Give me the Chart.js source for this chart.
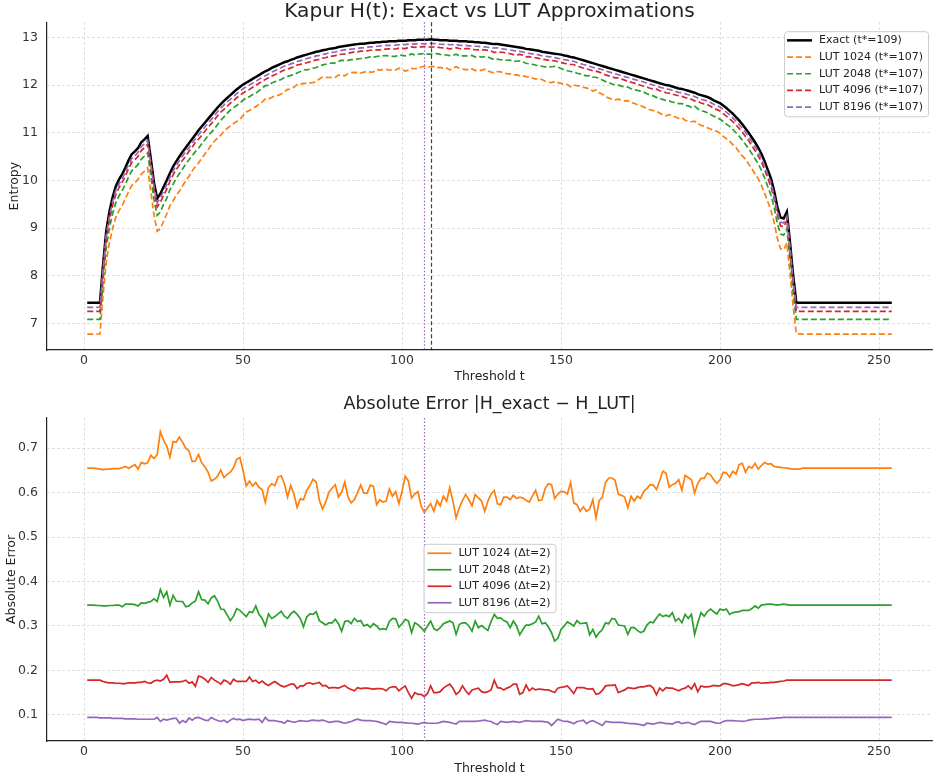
<!DOCTYPE html>
<html>
<head>
<meta charset="utf-8">
<title>Kapur H(t): Exact vs LUT Approximations</title>
<script src="https://cdn.jsdelivr.net/npm/chart.js@4.4.0/dist/chart.umd.min.js"></script>
<style>
  html, body { margin: 0; padding: 0; background: #fff; }
  #wrap { position: relative; width: 934px; height: 778px; }
  canvas { position: absolute; left: 0; }
  #top { top: 0; }
  #bottom { top: 390px; }
</style>
</head>
<body>
<div id="wrap">
  <canvas id="top" width="934" height="390"></canvas>
  <canvas id="bottom" width="934" height="388"></canvas>
</div>
<script>
// thresholds run 1..254, one value per threshold
const T_FIRST = 1;

// exact Kapur entropy H(t)
const exactH = [
  7.43,7.43,7.43,7.43,7.43,8.25,8.95,9.35,9.65,9.88,
  10.02,10.13,10.27,10.42,10.55,10.61,10.68,10.80,10.86,10.93,
  10.45,9.95,9.62,9.72,9.86,10.00,10.15,10.29,10.40,10.50,
  10.60,10.69,10.78,10.87,10.96,11.05,11.13,11.21,11.29,11.37,
  11.45,11.53,11.60,11.67,11.73,11.79,11.85,11.91,11.96,12.01,
  12.05,12.09,12.13,12.17,12.21,12.25,12.29,12.32,12.36,12.39,
  12.42,12.45,12.48,12.50,12.53,12.55,12.58,12.60,12.62,12.64,
  12.66,12.68,12.70,12.71,12.73,12.74,12.76,12.77,12.78,12.80,
  12.81,12.82,12.83,12.84,12.85,12.86,12.87,12.87,12.88,12.89,
  12.89,12.90,12.90,12.91,12.91,12.92,12.92,12.92,12.93,12.93,
  12.93,12.94,12.94,12.94,12.95,12.95,12.95,12.95,12.96,12.95,
  12.95,12.94,12.94,12.94,12.93,12.93,12.93,12.92,12.92,12.92,
  12.91,12.91,12.90,12.90,12.89,12.89,12.88,12.87,12.86,12.86,
  12.85,12.84,12.83,12.82,12.81,12.80,12.79,12.78,12.76,12.75,
  12.74,12.73,12.72,12.70,12.69,12.68,12.67,12.66,12.65,12.64,
  12.62,12.61,12.59,12.58,12.56,12.54,12.52,12.50,12.48,12.46,
  12.44,12.42,12.40,12.38,12.36,12.34,12.32,12.30,12.28,12.26,
  12.24,12.22,12.20,12.18,12.16,12.14,12.12,12.10,12.08,12.06,
  12.04,12.02,12.00,11.99,11.97,11.95,11.93,11.92,11.90,11.88,
  11.86,11.84,11.81,11.79,11.77,11.75,11.72,11.68,11.65,11.62,
  11.57,11.52,11.46,11.40,11.33,11.26,11.18,11.09,11.00,10.90,
  10.80,10.69,10.56,10.40,10.22,10.04,9.78,9.45,9.22,9.20,
  9.34,8.70,8.00,7.43,7.43,7.43,7.43,7.43,7.43,7.43,
  7.43,7.43,7.43,7.43,7.43,7.43,7.43,7.43,7.43,7.43,
  7.43,7.43,7.43,7.43,7.43,7.43,7.43,7.43,7.43,7.43,
  7.43,7.43,7.43,7.43
];

// absolute error |H_exact - H_LUT| per LUT size
const err1024 = [
  0.655,0.655,0.655,0.654,0.653,0.652,0.653,0.653,0.654,0.654,
  0.654,0.656,0.659,0.655,0.659,0.663,0.653,0.668,0.665,0.667,
  0.684,0.677,0.686,0.737,0.718,0.705,0.680,0.715,0.714,0.725,
  0.713,0.700,0.694,0.670,0.671,0.686,0.667,0.658,0.646,0.626,
  0.630,0.637,0.651,0.634,0.641,0.646,0.656,0.675,0.679,0.650,
  0.615,0.626,0.615,0.623,0.612,0.607,0.578,0.612,0.620,0.616,
  0.635,0.638,0.620,0.590,0.616,0.597,0.567,0.586,0.584,0.605,
  0.616,0.630,0.624,0.583,0.563,0.579,0.601,0.610,0.618,0.590,
  0.601,0.624,0.590,0.577,0.584,0.600,0.617,0.599,0.599,0.617,
  0.614,0.573,0.584,0.579,0.581,0.608,0.592,0.602,0.575,0.603,
  0.637,0.626,0.588,0.597,0.602,0.570,0.555,0.566,0.575,0.558,
  0.582,0.570,0.592,0.581,0.611,0.581,0.543,0.566,0.582,0.596,
  0.584,0.570,0.596,0.588,0.581,0.558,0.581,0.597,0.605,0.575,
  0.573,0.590,0.590,0.584,0.594,0.587,0.590,0.588,0.583,0.579,
  0.592,0.605,0.582,0.584,0.609,0.620,0.618,0.587,0.597,0.603,
  0.602,0.597,0.623,0.577,0.573,0.558,0.568,0.558,0.563,0.584,
  0.543,0.582,0.590,0.623,0.633,0.633,0.628,0.596,0.594,0.590,
  0.566,0.592,0.581,0.592,0.587,0.603,0.609,0.618,0.617,0.607,
  0.626,0.648,0.644,0.612,0.618,0.621,0.629,0.605,0.639,0.634,
  0.629,0.599,0.621,0.632,0.632,0.644,0.640,0.629,0.621,0.629,
  0.646,0.644,0.635,0.648,0.642,0.663,0.666,0.646,0.659,0.655,
  0.666,0.653,0.661,0.668,0.664,0.665,0.659,0.658,0.657,0.656,
  0.655,0.654,0.653,0.653,0.653,0.655,0.655,0.655,0.655,0.655,
  0.655,0.655,0.655,0.655,0.655,0.655,0.655,0.655,0.655,0.655,
  0.655,0.655,0.655,0.655,0.655,0.655,0.655,0.655,0.655,0.655,
  0.655,0.655,0.655,0.655
];

const err2048 = [
  0.347,0.347,0.347,0.346,0.346,0.345,0.345,0.346,0.346,0.347,
  0.347,0.343,0.349,0.349,0.349,0.348,0.345,0.352,0.351,0.353,
  0.355,0.361,0.355,0.382,0.364,0.377,0.347,0.369,0.356,0.355,
  0.355,0.343,0.345,0.352,0.356,0.377,0.359,0.358,0.350,0.363,
  0.368,0.356,0.338,0.337,0.325,0.312,0.322,0.339,0.335,0.328,
  0.321,0.332,0.330,0.345,0.326,0.317,0.300,0.327,0.317,0.321,
  0.327,0.333,0.322,0.317,0.327,0.333,0.326,0.317,0.298,0.320,
  0.327,0.326,0.332,0.312,0.307,0.302,0.307,0.307,0.315,0.305,
  0.288,0.310,0.312,0.305,0.317,0.310,0.312,0.300,0.303,0.297,
  0.305,0.300,0.292,0.294,0.292,0.310,0.317,0.316,0.297,0.305,
  0.315,0.311,0.285,0.307,0.303,0.296,0.288,0.300,0.311,0.294,
  0.290,0.296,0.305,0.308,0.311,0.307,0.281,0.303,0.307,0.307,
  0.300,0.288,0.311,0.296,0.301,0.295,0.290,0.310,0.326,0.317,
  0.318,0.312,0.309,0.296,0.311,0.300,0.280,0.292,0.302,0.302,
  0.305,0.309,0.322,0.305,0.307,0.298,0.285,0.266,0.272,0.292,
  0.300,0.309,0.305,0.300,0.312,0.305,0.306,0.307,0.280,0.292,
  0.275,0.285,0.292,0.307,0.305,0.317,0.315,0.302,0.301,0.300,
  0.281,0.296,0.296,0.290,0.285,0.288,0.302,0.309,0.307,0.318,
  0.327,0.321,0.324,0.321,0.330,0.311,0.317,0.307,0.326,0.317,
  0.326,0.281,0.307,0.330,0.322,0.332,0.338,0.332,0.327,0.338,
  0.335,0.338,0.326,0.330,0.331,0.332,0.335,0.335,0.335,0.339,
  0.345,0.340,0.347,0.348,0.349,0.349,0.348,0.347,0.348,0.349,
  0.348,0.347,0.347,0.347,0.347,0.347,0.347,0.347,0.347,0.347,
  0.347,0.347,0.347,0.347,0.347,0.347,0.347,0.347,0.347,0.347,
  0.347,0.347,0.347,0.347,0.347,0.347,0.347,0.347,0.347,0.347,
  0.347,0.347,0.347,0.347
];

const err4096 = [
  0.178,0.178,0.178,0.178,0.178,0.175,0.173,0.172,0.172,0.171,
  0.171,0.170,0.170,0.172,0.172,0.172,0.173,0.173,0.175,0.172,
  0.171,0.176,0.178,0.176,0.180,0.189,0.173,0.174,0.174,0.174,
  0.175,0.178,0.171,0.174,0.164,0.187,0.185,0.180,0.173,0.184,
  0.178,0.174,0.169,0.178,0.175,0.169,0.180,0.175,0.175,0.175,
  0.175,0.185,0.175,0.178,0.171,0.176,0.170,0.166,0.171,0.175,
  0.170,0.165,0.163,0.166,0.169,0.169,0.159,0.165,0.165,0.171,
  0.172,0.169,0.171,0.173,0.165,0.166,0.160,0.161,0.161,0.160,
  0.163,0.166,0.160,0.157,0.154,0.161,0.159,0.160,0.160,0.159,
  0.158,0.159,0.159,0.158,0.154,0.161,0.163,0.163,0.154,0.160,
  0.165,0.150,0.137,0.150,0.146,0.146,0.141,0.148,0.165,0.150,
  0.150,0.152,0.160,0.165,0.169,0.160,0.146,0.152,0.165,0.154,
  0.146,0.156,0.158,0.160,0.152,0.150,0.152,0.156,0.178,0.161,
  0.160,0.156,0.160,0.163,0.169,0.169,0.146,0.150,0.167,0.154,
  0.160,0.156,0.158,0.157,0.156,0.156,0.153,0.150,0.160,0.162,
  0.163,0.165,0.157,0.148,0.161,0.161,0.161,0.159,0.158,0.159,
  0.146,0.148,0.155,0.165,0.166,0.166,0.167,0.150,0.153,0.156,
  0.161,0.160,0.159,0.161,0.163,0.163,0.165,0.166,0.160,0.145,
  0.160,0.154,0.161,0.160,0.160,0.157,0.154,0.158,0.160,0.165,
  0.158,0.170,0.152,0.165,0.163,0.163,0.164,0.166,0.165,0.165,
  0.170,0.170,0.168,0.165,0.166,0.168,0.170,0.168,0.166,0.172,
  0.172,0.173,0.171,0.172,0.172,0.173,0.173,0.174,0.175,0.176,
  0.178,0.178,0.178,0.178,0.178,0.178,0.178,0.178,0.178,0.178,
  0.178,0.178,0.178,0.178,0.178,0.178,0.178,0.178,0.178,0.178,
  0.178,0.178,0.178,0.178,0.178,0.178,0.178,0.178,0.178,0.178,
  0.178,0.178,0.178,0.178
];

const err8196 = [
  0.094,0.094,0.094,0.094,0.093,0.093,0.093,0.093,0.092,0.092,
  0.092,0.092,0.091,0.091,0.091,0.091,0.090,0.090,0.090,0.090,
  0.090,0.090,0.094,0.085,0.090,0.088,0.090,0.092,0.092,0.081,
  0.087,0.083,0.093,0.088,0.093,0.094,0.091,0.088,0.087,0.094,
  0.090,0.087,0.085,0.088,0.083,0.088,0.092,0.089,0.090,0.087,
  0.089,0.090,0.089,0.089,0.090,0.083,0.094,0.087,0.087,0.087,
  0.085,0.084,0.081,0.087,0.085,0.083,0.085,0.087,0.086,0.085,
  0.087,0.088,0.087,0.087,0.088,0.086,0.083,0.084,0.085,0.085,
  0.083,0.081,0.083,0.085,0.088,0.090,0.088,0.087,0.087,0.087,
  0.086,0.085,0.083,0.081,0.078,0.085,0.084,0.083,0.083,0.083,
  0.082,0.081,0.081,0.080,0.079,0.081,0.083,0.081,0.081,0.081,
  0.081,0.083,0.085,0.084,0.083,0.081,0.079,0.085,0.085,0.085,
  0.085,0.085,0.085,0.086,0.087,0.088,0.086,0.085,0.081,0.078,
  0.085,0.084,0.083,0.084,0.085,0.084,0.083,0.085,0.087,0.086,
  0.085,0.085,0.085,0.085,0.084,0.083,0.076,0.083,0.090,0.087,
  0.085,0.085,0.083,0.080,0.085,0.086,0.088,0.080,0.085,0.087,
  0.083,0.080,0.076,0.085,0.084,0.083,0.083,0.083,0.083,0.082,
  0.081,0.080,0.080,0.079,0.078,0.076,0.081,0.080,0.079,0.081,
  0.083,0.082,0.080,0.080,0.079,0.083,0.084,0.080,0.082,0.083,
  0.080,0.078,0.082,0.085,0.085,0.085,0.085,0.083,0.081,0.081,
  0.085,0.087,0.087,0.087,0.086,0.086,0.085,0.086,0.088,0.089,
  0.090,0.090,0.090,0.091,0.091,0.092,0.092,0.093,0.093,0.094,
  0.094,0.094,0.094,0.094,0.094,0.094,0.094,0.094,0.094,0.094,
  0.094,0.094,0.094,0.094,0.094,0.094,0.094,0.094,0.094,0.094,
  0.094,0.094,0.094,0.094,0.094,0.094,0.094,0.094,0.094,0.094,
  0.094,0.094,0.094,0.094
];

const lutSizes = [1024, 2048, 4096, 8196];
const lutColors = ['#ff7f0e', '#2ca02c', '#d62728', '#9467bd'];
const errSeries = [err1024, err2048, err4096, err8196];
const tStarExact = 109;
const tStarLut = 107;
const deltaT = 2;

const xTicks = [0, 50, 100, 150, 200, 250];
const yTicksTop = [7, 8, 9, 10, 11, 12, 13];
const yTicksBottom = [0.1, 0.2, 0.3, 0.4, 0.5, 0.6, 0.7];

const FONT = '"DejaVu Sans", Verdana, sans-serif';
Chart.defaults.font.family = FONT;
Chart.defaults.color = '#333';

const toPoints = arr => arr.map((v, i) => ({ x: T_FIRST + i, y: v }));

// vertical marker lines at optimal thresholds
const vLines = {
  id: 'vLines',
  afterDatasetsDraw(chart, args, opts) {
    const { ctx, chartArea: a } = chart;
    const xs = chart.scales.x;
    (opts.lines || []).forEach(l => {
      const px = Math.round(xs.getPixelForValue(l.value)) + 0.5;
      ctx.save();
      ctx.beginPath();
      ctx.strokeStyle = l.color;
      ctx.lineWidth = l.width;
      ctx.setLineDash(l.dash);
      ctx.moveTo(px, a.top);
      ctx.lineTo(px, a.bottom);
      ctx.stroke();
      ctx.restore();
    });
  }
};

// matplotlib-like framed legend drawn inside the plot area
const boxLegend = {
  id: 'boxLegend',
  afterDraw(chart, args, o) {
    const { ctx, chartArea: a } = chart;
    const sets = chart.data.datasets;
    ctx.save();
    ctx.font = o.fontSize + 'px ' + FONT;
    const textW = Math.max(...sets.map(d => ctx.measureText(d.label).width));
    const w = o.padL + o.handle + o.gap + textW + o.padR;
    const h = o.padV * 2 + o.rowH * sets.length;
    let left, top;
    if (o.loc === 'upper right') {
      left = a.right - o.dx - w;
      top = a.top + o.dy;
    } else {
      left = (a.left + a.right) / 2 - w / 2;
      top = (a.top + a.bottom) / 2 - h / 2 + o.dy;
    }
    ctx.beginPath();
    if (ctx.roundRect) ctx.roundRect(left + 0.5, top + 0.5, w, h, 3);
    else ctx.rect(left + 0.5, top + 0.5, w, h);
    ctx.fillStyle = 'rgba(255,255,255,0.8)';
    ctx.fill();
    ctx.strokeStyle = '#cccccc';
    ctx.lineWidth = 1;
    ctx.stroke();
    sets.forEach((d, i) => {
      const cy = top + o.padV + o.rowH * (i + 0.5);
      ctx.beginPath();
      ctx.setLineDash(d.borderDash || []);
      ctx.strokeStyle = d.borderColor;
      ctx.lineWidth = d.borderWidth;
      ctx.moveTo(left + o.padL, cy);
      ctx.lineTo(left + o.padL + o.handle, cy);
      ctx.stroke();
      ctx.setLineDash([]);
      ctx.fillStyle = '#222';
      ctx.textBaseline = 'middle';
      ctx.textAlign = 'left';
      ctx.fillText(d.label, left + o.padL + o.handle + o.gap, cy);
    });
    ctx.restore();
  }
};

function xAxis(height, titlePad) {
  return {
    type: 'linear',
    min: -11.65,
    max: 266.65,
    afterBuildTicks: s => { s.ticks = xTicks.map(v => ({ value: v })); },
    afterFit: s => { s.height = height; },
    ticks: { font: { size: 12.5 }, color: '#333', padding: 3, maxRotation: 0 },
    grid: { color: '#d0d0d0', lineWidth: 0.8, drawTicks: false },
    border: { display: true, color: '#222', width: 1.2, dash: [2.5, 2.5] },
    title: { display: true, text: 'Threshold t', font: { size: 12.5 }, color: '#222',
             padding: { top: 0, bottom: titlePad } }
  };
}

function yAxis(min, max, ticks, fmt, title, titlePad) {
  return {
    type: 'linear',
    min: min,
    max: max,
    afterBuildTicks: s => { s.ticks = ticks.map(v => ({ value: v })); },
    afterFit: s => { s.width = 47; },
    ticks: { font: { size: 12.5 }, color: '#333', padding: 9, callback: fmt },
    grid: { color: '#d0d0d0', lineWidth: 0.8, drawTicks: false },
    border: { display: true, color: '#222', width: 1.2, dash: [2.5, 2.5] },
    title: { display: true, text: title, font: { size: 12.5 }, color: '#222',
             padding: { top: titlePad, bottom: 0 } }
  };
}

// top: exact entropy and LUT entropy (H_LUT = H_exact - error)
const topSets = [{
  label: 'Exact (t*=' + tStarExact + ')',
  data: toPoints(exactH),
  borderColor: '#000000',
  borderWidth: 2.5,
  order: 5
}].concat(lutSizes.map((n, k) => ({
  label: 'LUT ' + n + ' (t*=' + tStarLut + ')',
  data: toPoints(exactH.map((v, i) => v - errSeries[k][i])),
  borderColor: lutColors[k],
  borderWidth: 1.7,
  borderDash: [6, 3],
  order: 4 - k
})));

new Chart(document.getElementById('top'), {
  type: 'line',
  data: { datasets: topSets },
  options: {
    responsive: false,
    animation: false,
    devicePixelRatio: 1,
    layout: { padding: { left: 0, right: 2, top: 0, bottom: 0 } },
    elements: { point: { radius: 0 }, line: { tension: 0 } },
    plugins: {
      legend: { display: false },
      tooltip: { enabled: false },
      title: { display: true, fullSize: false, text: 'Kapur H(t): Exact vs LUT Approximations',
               font: { size: 20.2, weight: 'normal', lineHeight: 1 }, color: '#222',
               padding: { top: 2, bottom: 0 } },
      vLines: { lines: [
        { value: tStarLut, color: '#9467bd', width: 1.2, dash: [1.5, 2] },
        { value: tStarExact, color: 'rgba(0,0,0,0.75)', width: 1.2, dash: [4, 2.5] }
      ] },
      boxLegend: { loc: 'upper right', fontSize: 11, padL: 3, handle: 25, gap: 7, padR: 5,
                   padV: 0.8, rowH: 16.7, dx: 4, dy: 9 }
    },
    scales: {
      x: xAxis(40, 6.2),
      y: yAxis(6.44, 13.32, yTicksTop, v => String(v), 'Entropy', 7.5)
    }
  },
  plugins: [vLines, boxLegend]
});

// bottom: absolute error per LUT size
const bottomSets = lutSizes.map((n, k) => ({
  label: 'LUT ' + n + ' (\u0394t=' + deltaT + ')',
  data: toPoints(errSeries[k]),
  borderColor: lutColors[k],
  borderWidth: 1.7,
  order: 4 - k
}));

new Chart(document.getElementById('bottom'), {
  type: 'line',
  data: { datasets: bottomSets },
  options: {
    responsive: false,
    animation: false,
    devicePixelRatio: 1,
    layout: { padding: { left: 0, right: 2, top: 0, bottom: 0 } },
    elements: { point: { radius: 0 }, line: { tension: 0 } },
    plugins: {
      legend: { display: false },
      tooltip: { enabled: false },
      title: { display: true, fullSize: false, text: 'Absolute Error |H_exact \u2212 H_LUT|',
               font: { size: 17.5, weight: 'normal', lineHeight: 1 }, color: '#222',
               padding: { top: 5.25, bottom: 5.25 } },
      vLines: { lines: [
        { value: tStarLut, color: '#9467bd', width: 1.2, dash: [1.5, 2] }
      ] },
      boxLegend: { loc: 'center', fontSize: 11, padL: 4, handle: 24, gap: 7, padR: 5,
                   padV: 1.2, rowH: 16.5, dx: 0, dy: -1.5 }
    },
    scales: {
      x: xAxis(37, 2.2),
      y: yAxis(0.041, 0.768, yTicksBottom, v => v.toFixed(1), 'Absolute Error', 4.5)
    }
  },
  plugins: [vLines, boxLegend]
});
</script>
</body>
</html>
